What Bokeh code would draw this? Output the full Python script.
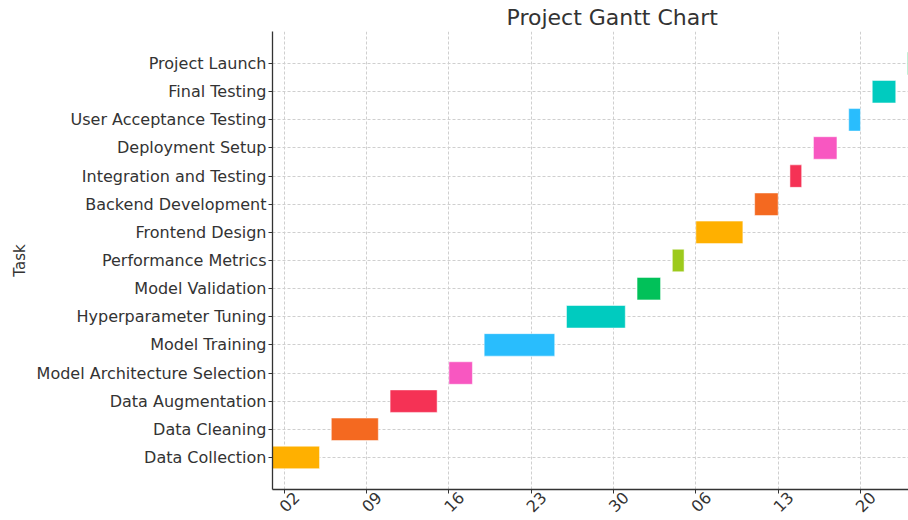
import math
import pandas as pd
from bokeh.plotting import figure
from bokeh.models import (ColumnDataSource, Range1d, FixedTicker, DatetimeTickFormatter,
                          DatetimeAxis, CustomLabelingPolicy)
from bokeh.embed import file_html
from bokeh.resources import INLINE

tasks = [
    "Data Collection", "Data Cleaning", "Data Augmentation",
    "Model Architecture Selection", "Model Training", "Hyperparameter Tuning",
    "Model Validation", "Performance Metrics", "Frontend Design",
    "Backend Development", "Integration and Testing", "Deployment Setup",
    "User Acceptance Testing", "Final Testing", "Project Launch",
]
start_dates = [
    "2023-10-01", "2023-10-06", "2023-10-11", "2023-10-16", "2023-10-19",
    "2023-10-26", "2023-11-01", "2023-11-04", "2023-11-06", "2023-11-11",
    "2023-11-14", "2023-11-16", "2023-11-19", "2023-11-21", "2023-11-24",
]
end_dates = [
    "2023-10-05", "2023-10-10", "2023-10-15", "2023-10-18", "2023-10-25",
    "2023-10-31", "2023-11-03", "2023-11-05", "2023-11-10", "2023-11-13",
    "2023-11-15", "2023-11-18", "2023-11-20", "2023-11-23", "2023-11-25",
]
palette = ["#FFB000", "#F46920", "#F53255", "#F857C1",
           "#29BDFD", "#00CBBF", "#01C159", "#9DCA1C"]
tick_dates = ["2023-10-02", "2023-10-09", "2023-10-16", "2023-10-23",
              "2023-10-30", "2023-11-06", "2023-11-13", "2023-11-20"]
x_min = pd.Timestamp("2023-10-01")
x_max = pd.Timestamp("2023-11-24 02:00")
label_shift = pd.Timedelta(hours=25)

source = ColumnDataSource(dict(
    y=list(range(len(tasks))),
    start=pd.to_datetime(start_dates),
    end=pd.to_datetime(end_dates),
    color=[palette[i % len(palette)] for i in range(len(tasks))],
))

FONT = "DejaVu Sans"
TXT = "#333333"
tick_ms = [pd.Timestamp(d).timestamp() * 1000 for d in tick_dates]
day_fmt = DatetimeTickFormatter(days="%d", months="%d", years="%d", hours="%d",
                                hourmin="%d", minutes="%d", minsec="%d",
                                seconds="%d", milliseconds="%d", microseconds="%d")

p = figure(width=908, height=520, x_axis_type="datetime",
           x_range=Range1d(x_min, x_max),
           y_range=Range1d(-1.14, len(tasks) - 1 + 1.14),
           output_backend="svg", toolbar_location=None,
           min_border_left=272, min_border_right=0,
           min_border_top=0, min_border_bottom=0)
p.extra_x_ranges = {"labels": Range1d(x_min - label_shift, x_max - label_shift)}

p.hbar(y="y", left="start", right="end", height=0.8, fill_color="color",
       line_color="white", line_alpha=0.5, line_width=1, source=source)

p.title.text = "Project Gantt Chart"
p.title.text_font = FONT
p.title.text_font_size = "22px"
p.title.text_font_style = "normal"
p.title.text_color = TXT
p.title.align = "left"
p.title.offset = 234
p.title.standoff = 4

p.outline_line_color = None

# axis carrying the tick marks and the spine (its labels are suppressed)
xa = p.xaxis[0]
xa.ticker = FixedTicker(ticks=tick_ms)
xa.formatter = day_fmt
xa.major_label_policy = CustomLabelingPolicy(code="""
for (let k = 0; k < indices.size; k++) { indices.unset(k) }
return indices
""")
xa.major_label_standoff = 0

# axis carrying the rotated day labels, centred under the ticks
lab = DatetimeAxis(x_range_name="labels", ticker=FixedTicker(ticks=tick_ms),
                   formatter=day_fmt)
lab.axis_line_color = None
lab.major_tick_line_color = None
lab.minor_tick_line_color = None
lab.major_tick_out = 0
lab.major_tick_in = 0
lab.major_label_orientation = math.pi / 4
lab.major_label_standoff = -3
lab.major_label_text_font = FONT
lab.major_label_text_font_size = "16px"
lab.major_label_text_color = TXT
p.add_layout(lab, "below")

ya = p.yaxis[0]
ya.ticker = FixedTicker(ticks=list(range(len(tasks))))
ya.major_label_overrides = {i: t for i, t in enumerate(tasks)}
ya.axis_label = "Task"
ya.major_label_text_font_size = "16px"
ya.major_label_standoff = 2

for ax in (xa, ya):
    ax.major_label_text_font = FONT
    ax.major_label_text_color = TXT
    ax.axis_label_text_font = FONT
    ax.axis_label_text_font_size = "15px"
    ax.axis_label_text_font_style = "normal"
    ax.axis_label_text_color = TXT
    ax.axis_line_color = "#333333"
    ax.axis_line_width = 1.3
    ax.major_tick_line_color = "#333333"
    ax.major_tick_out = 4
    ax.major_tick_in = 0
    ax.minor_tick_out = 0
    ax.minor_tick_in = 0

xa.major_label_text_font_size = "1px"

for g in (p.xgrid[0], p.ygrid[0]):
    g.grid_line_color = "#cfcfcf"
    g.grid_line_dash = "3 2"
    g.grid_line_width = 1

p.xgrid[0].ticker = xa.ticker
p.ygrid[0].ticker = ya.ticker

open("out.html", "w").write(file_html(p, INLINE))
